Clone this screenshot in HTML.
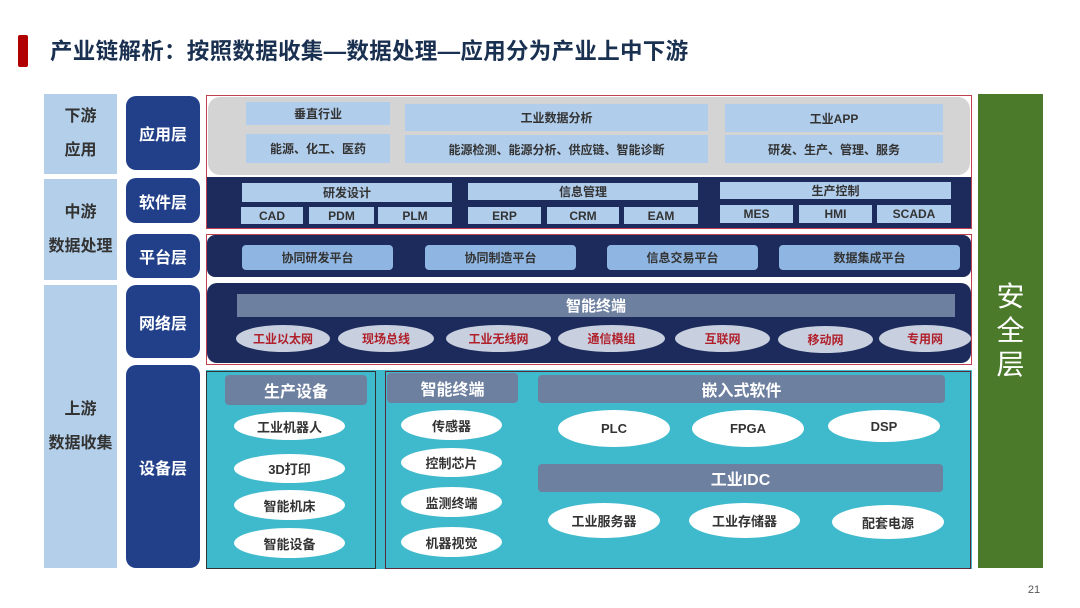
<!DOCTYPE html>
<html><head><meta charset="utf-8"><style>
body{margin:0;width:1080px;height:608px;background:#fff;position:relative;overflow:hidden;font-family:"Liberation Sans","Noto Sans CJK SC",sans-serif;}
div{position:absolute;box-sizing:border-box;display:flex;align-items:center;justify-content:center;text-align:center;}
.lb{background:#b3cfe9;color:#333;font-weight:bold;font-size:16px;line-height:34px;}
.nv{background:#22408a;color:#fff;font-weight:bold;font-size:16px;border-radius:10px;}
.bx{background:#b0cdeb;color:#333;font-weight:bold;font-size:12px;}
.pb{background:#8fb6e2;color:#333;font-weight:bold;font-size:12px;border-radius:4px;}
.ne{background:#c8d0e0;color:#b0202a;font-weight:bold;font-size:12px;border-radius:50%;}
.we{background:#fff;color:#333;font-weight:bold;font-size:13px;border-radius:50%;}
.gh{background:#6e80a0;color:#fff;font-weight:bold;font-size:16px;border-radius:4px;}
</style></head><body>
<div style="left:18px;top:35px;width:10px;height:32px;background:#b00000;border-radius:2px"></div>
<div style="left:50px;top:32px;height:36px;justify-content:flex-start;font-size:22.5px;font-weight:bold;color:#1a3050;white-space:nowrap;letter-spacing:0.3px">产业链解析：按照数据收集—数据处理—应用分为产业上中下游</div>

<div class="lb" style="left:44px;top:94px;width:73px;height:80px">下游<br>应用</div>
<div class="lb" style="left:44px;top:179px;width:73px;height:101px">中游<br>数据处理</div>
<div class="lb" style="left:44px;top:285px;width:73px;height:283px">上游<br>数据收集</div>

<div class="nv" style="left:126px;top:96px;width:74px;height:74px">应用层</div>
<div class="nv" style="left:126px;top:178px;width:74px;height:45px">软件层</div>
<div class="nv" style="left:126px;top:234px;width:74px;height:44px">平台层</div>
<div class="nv" style="left:126px;top:285px;width:74px;height:73px">网络层</div>
<div class="nv" style="left:126px;top:365px;width:74px;height:203px">设备层</div>

<div style="left:206px;top:95px;width:766px;height:134px;border:1px solid #c04050"></div>
<div style="left:208px;top:97px;width:762px;height:78px;background:#d4d4d4;border-radius:12px"></div>
<div class="bx" style="left:246px;top:102px;width:144px;height:23px">垂直行业</div>
<div class="bx" style="left:405px;top:104px;width:303px;height:27px">工业数据分析</div>
<div class="bx" style="left:725px;top:104px;width:218px;height:28px">工业APP</div>
<div class="bx" style="left:246px;top:134px;width:144px;height:29px">能源、化工、医药</div>
<div class="bx" style="left:405px;top:135px;width:303px;height:28px">能源检测、能源分析、供应链、智能诊断</div>
<div class="bx" style="left:725px;top:135px;width:218px;height:28px">研发、生产、管理、服务</div>

<div style="left:207px;top:177px;width:764px;height:51px;background:#1c2b5b"></div>
<div class="bx" style="left:242px;top:183px;width:210px;height:19px">研发设计</div>
<div class="bx" style="left:241px;top:207px;width:62px;height:17px">CAD</div>
<div class="bx" style="left:309px;top:207px;width:65px;height:17px">PDM</div>
<div class="bx" style="left:378px;top:207px;width:74px;height:17px">PLM</div>
<div class="bx" style="left:468px;top:183px;width:230px;height:17px">信息管理</div>
<div class="bx" style="left:468px;top:207px;width:73px;height:17px">ERP</div>
<div class="bx" style="left:547px;top:207px;width:72px;height:17px">CRM</div>
<div class="bx" style="left:624px;top:207px;width:74px;height:17px">EAM</div>
<div class="bx" style="left:720px;top:182px;width:231px;height:17px">生产控制</div>
<div class="bx" style="left:720px;top:205px;width:73px;height:18px">MES</div>
<div class="bx" style="left:799px;top:205px;width:73px;height:18px">HMI</div>
<div class="bx" style="left:877px;top:205px;width:74px;height:18px">SCADA</div>

<div style="left:206px;top:234px;width:766px;height:131px;border:1px solid #c04050"></div>
<div style="left:207px;top:235px;width:764px;height:42px;background:#1c2b5b;border-radius:8px"></div>
<div class="pb" style="left:242px;top:245px;width:151px;height:25px">协同研发平台</div>
<div class="pb" style="left:425px;top:245px;width:151px;height:25px">协同制造平台</div>
<div class="pb" style="left:607px;top:245px;width:151px;height:25px">信息交易平台</div>
<div class="pb" style="left:779px;top:245px;width:181px;height:25px">数据集成平台</div>

<div style="left:207px;top:283px;width:764px;height:80px;background:#1c2b5b;border-radius:10px"></div>
<div style="left:237px;top:294px;width:718px;height:23px;background:#6e80a0;color:#fff;font-weight:bold;font-size:15px">智能终端</div>
<div class="ne" style="left:236px;top:325px;width:94px;height:27px">工业以太网</div>
<div class="ne" style="left:338px;top:325px;width:96px;height:27px">现场总线</div>
<div class="ne" style="left:446px;top:325px;width:105px;height:27px">工业无线网</div>
<div class="ne" style="left:558px;top:325px;width:107px;height:27px">通信模组</div>
<div class="ne" style="left:675px;top:325px;width:95px;height:27px">互联网</div>
<div class="ne" style="left:778px;top:326px;width:95px;height:27px">移动网</div>
<div class="ne" style="left:879px;top:325px;width:92px;height:27px">专用网</div>

<div style="left:206px;top:370px;width:766px;height:199px;background:#3fb9cc"></div>
<div style="left:206px;top:371px;width:170px;height:198px;border:1px solid #333"></div>
<div style="left:385px;top:371px;width:586px;height:198px;border:1px solid #5a2a3a"></div>
<div class="gh" style="left:225px;top:375px;width:142px;height:30px">生产设备</div>
<div class="we" style="left:234px;top:412px;width:111px;height:28px">工业机器人</div>
<div class="we" style="left:234px;top:454px;width:111px;height:29px">3D打印</div>
<div class="we" style="left:234px;top:490px;width:111px;height:30px">智能机床</div>
<div class="we" style="left:234px;top:528px;width:111px;height:30px">智能设备</div>
<div class="gh" style="left:387px;top:373px;width:131px;height:30px">智能终端</div>
<div class="we" style="left:401px;top:410px;width:101px;height:30px">传感器</div>
<div class="we" style="left:401px;top:448px;width:101px;height:29px">控制芯片</div>
<div class="we" style="left:401px;top:487px;width:101px;height:30px">监测终端</div>
<div class="we" style="left:401px;top:527px;width:101px;height:30px">机器视觉</div>
<div class="gh" style="left:538px;top:375px;width:407px;height:28px">嵌入式软件</div>
<div class="we" style="left:558px;top:410px;width:112px;height:37px">PLC</div>
<div class="we" style="left:692px;top:410px;width:112px;height:37px">FPGA</div>
<div class="we" style="left:828px;top:410px;width:112px;height:32px">DSP</div>
<div class="gh" style="left:538px;top:464px;width:405px;height:28px">工业IDC</div>
<div class="we" style="left:548px;top:503px;width:112px;height:35px">工业服务器</div>
<div class="we" style="left:689px;top:503px;width:111px;height:35px">工业存储器</div>
<div class="we" style="left:832px;top:505px;width:112px;height:34px">配套电源</div>

<div style="left:978px;top:94px;width:65px;height:474px;background:#4a7a2a;color:#fff;font-size:28px;line-height:34px">安<br>全<br>层</div>
<div style="left:1022px;top:582px;width:24px;height:16px;font-size:11px;color:#555">21</div>
</body></html>
